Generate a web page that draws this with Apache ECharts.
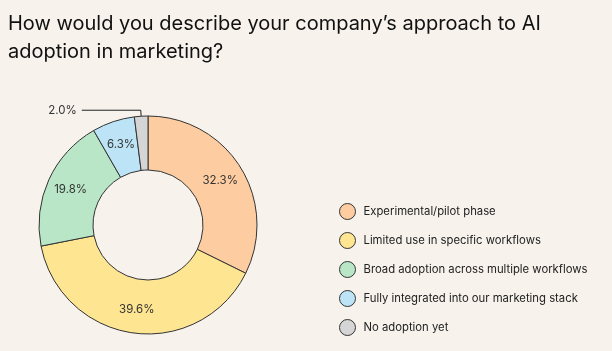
<!DOCTYPE html>
<html>
<head>
<meta charset="utf-8">
<script src="https://cdn.jsdelivr.net/npm/echarts@6/dist/echarts.min.js"></script>
<style>
  html, body { margin: 0; padding: 0; background: #f7f3ec; }
  #main { width: 612px; height: 351px; }
</style>
</head>
<body>
<div id="main"></div>
<script>
var categories = [
  'Experimental/pilot phase',
  'Limited use in specific workflows',
  'Broad adoption across multiple workflows',
  'Fully integrated into our marketing stack',
  'No adoption yet'
];
var values = [32.3, 39.6, 19.8, 6.3, 2.0];
var colors = ['#fdcda1', '#fee592', '#b9e6c7', '#bde4f6', '#d5d5d5'];

var chartDom = document.getElementById('main');
var myChart = echarts.init(chartDom);
var option;

var data = categories.map(function (name, i) {
  var item = { name: name, value: values[i], itemStyle: { color: colors[i] } };
  if (values[i] < 3) {
    item.label = { position: 'outside', color: '#333', fontSize: 11.5 };
    item.labelLine = { show: true, length: 6, length2: 59, lineStyle: { color: '#222', width: 1 } };
  }
  return item;
});

option = {
  backgroundColor: '#f7f3ec',
  textStyle: { fontFamily: 'Inter' },
  title: {
    text: 'How would you describe your company\u2019s approach to AI\nadoption in marketing?',
    left: 8,
    top: 10,
    padding: 0,
    textStyle: { fontSize: 20, fontWeight: 'normal', color: '#111', lineHeight: 28, fontFamily: 'Inter' }
  },
  legend: {
    orient: 'vertical',
    left: 339,
    top: 203,
    padding: 0,
    icon: 'circle',
    itemWidth: 22,
    itemHeight: 16,
    itemGap: 12,
    itemStyle: { borderColor: '#333', borderWidth: 1 },
    textStyle: { fontSize: 11.3, color: '#222', fontFamily: 'Inter' },
    data: categories
  },
  series: [
    {
      type: 'pie',
      center: [148, 225],
      radius: [55, 109],
      startAngle: 90,
      clockwise: true,
      avoidLabelOverlap: false,
      silent: true,
      itemStyle: { borderColor: '#333', borderWidth: 1 },
      label: {
        show: true,
        position: 'inside',
        formatter: function (p) { return p.value.toFixed(1) + '%'; },
        color: '#333',
        fontSize: 11.5,
        fontFamily: 'Inter'
      },
      labelLine: { show: false },
      data: data
    }
  ]
};

option && myChart.setOption(option);
</script>
</body>
</html>
